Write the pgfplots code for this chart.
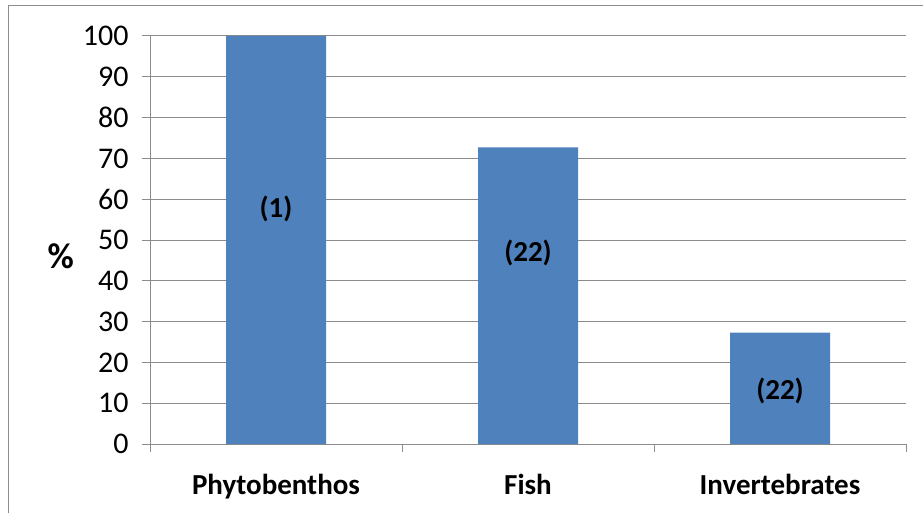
\documentclass[border=0pt]{standalone}
\usepackage{pgfplots}
\pgfplotsset{compat=1.18}
\usepackage{fontspec}
\setmainfont{Carlito}
\definecolor{barblue}{HTML}{4F81BD}
\definecolor{gridgray}{HTML}{8C8C8C}
\begin{document}
\begin{tikzpicture}[x=1pt,y=1pt]
\useasboundingbox (0,0) rectangle (923,512);
\draw[gridgray, line width=1pt] (8,-20) -- (8,506) -- (950,506);
\begin{axis}[
  at={(150pt,68pt)}, anchor=south west,
  scale only axis, width=756pt, height=408pt,
  xmin=0, xmax=3, ymin=0, ymax=100,
  axis x line*=bottom, axis y line*=left,
  axis line style={gridgray, line width=1pt},
  every outer x axis line/.append style={-}, every outer y axis line/.append style={-},
  ytick={0,10,...,100},
  ymajorgrids, grid style={gridgray, line width=1pt},
  xtick={0.5,1.5,2.5},
  xticklabels={Phytobenthos,Fish,Invertebrates},
  minor xtick={0,1,2,3},
  major x tick style={draw=none},
  minor x tick style={gridgray, line width=1pt},
  y tick style={gridgray, line width=1pt},
  tick align=outside, major tick length=8pt, minor tick length=8pt,
  /pgf/number format/assume math mode=true,
  yticklabel style={font=\fontsize{30}{36}\selectfont, xshift=-10pt},
  xticklabel style={font=\fontsize{29}{35}\selectfont\bfseries, yshift=-19pt},
  ylabel={\%}, ylabel style={rotate=-90, font=\fontsize{36}{42}\selectfont\bfseries, at={(axis description cs:-0.118,0.46)}, anchor=center},
  clip=false,
]
\addplot[ybar, bar width=100pt, fill=barblue, draw=none] coordinates {(0.5,100) (1.5,72.7) (2.5,27.3)};
\node[font=\fontsize{29}{35}\selectfont\bfseries] at (axis cs:0.5,57.5) {(1)};
\node[font=\fontsize{29}{35}\selectfont\bfseries] at (axis cs:1.5,46.8) {(22)};
\node[font=\fontsize{29}{35}\selectfont\bfseries] at (axis cs:2.5,13) {(22)};
\end{axis}
\end{tikzpicture}
\end{document}
